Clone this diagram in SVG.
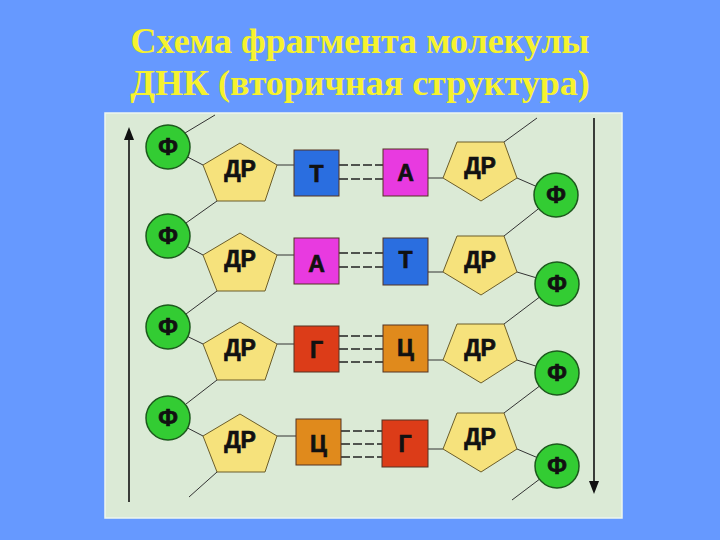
<svg xmlns="http://www.w3.org/2000/svg" width="720" height="540" viewBox="0 0 720 540">
<defs>
<style>
.title{font-family:"Liberation Serif","Times New Roman",serif;font-weight:bold;font-size:36px;fill:#f6f22e;text-anchor:middle}
.f circle{fill:#33cc33;stroke:#1d5a1d;stroke-width:1.5}
.lbl{font-family:"Liberation Sans",Arial,sans-serif;font-weight:bold;fill:#111;stroke:#111;stroke-width:0.7;text-anchor:middle}
.f text{font-size:23px}
.p polygon{fill:#f6e27c;stroke:#6b5d2a;stroke-width:1}
.p text{font-size:23px}
.s rect{stroke:#553322;stroke-width:1}
.s text{font-size:23px}
.blue{fill:#2a6ee0}
.mag{fill:#e83ae0}
.red{fill:#dc3c18}
.org{fill:#e08a1c}
.ln{stroke:#333;stroke-width:1;fill:none}
.hb{stroke:#222;stroke-width:1.3;stroke-dasharray:9 3;fill:none}
.ax{stroke:#111;stroke-width:1.6;fill:none}
</style>
</defs>
<rect x="0" y="0" width="720" height="540" fill="#6699ff"/>
<text class="title" x="360" y="53">Схема фрагмента молекулы</text>
<text class="title" x="360" y="95">ДНК (вторичная структура)</text>
<rect x="105" y="113" width="517" height="405" fill="#dbead6" stroke="#eef6ee" stroke-width="1.5"/>

<g id="connectors">
<line class="ax" x1="129" y1="502" x2="129" y2="130"/>
<path d="M129,127 L124,140 L134,140 z" fill="#111"/>
<line class="ax" x1="594" y1="118" x2="594" y2="482"/>
<path d="M594,494 L589,481 L599,481 z" fill="#111"/>
<line class="ln" x1="185" y1="133" x2="215" y2="115"/>
<line class="ln" x1="187.6" y1="157" x2="203" y2="165"/>
<line class="ln" x1="217" y1="201" x2="186" y2="223"/>
<line class="ln" x1="187.3" y1="246.5" x2="203" y2="255"/>
<line class="ln" x1="217" y1="291" x2="186" y2="314"/>
<line class="ln" x1="187.8" y1="336.6" x2="203" y2="344"/>
<line class="ln" x1="217" y1="380" x2="185.4" y2="404.5"/>
<line class="ln" x1="187.6" y1="428" x2="203" y2="436"/>
<line class="ln" x1="217" y1="472" x2="189" y2="497"/>
<line class="ln" x1="277" y1="165" x2="294" y2="165" stroke-width="1.5"/>
<line class="ln" x1="277" y1="255" x2="294" y2="255" stroke-width="1.5"/>
<line class="ln" x1="277" y1="344" x2="294" y2="344" stroke-width="1.5"/>
<line class="ln" x1="277" y1="436" x2="296" y2="436" stroke-width="1.5"/>
<line class="ln" x1="504" y1="142" x2="537" y2="118"/>
<line class="ln" x1="517" y1="178" x2="535.8" y2="186.2"/>
<line class="ln" x1="538.7" y1="208.6" x2="504" y2="236"/>
<line class="ln" x1="517" y1="272" x2="535.9" y2="277.7"/>
<line class="ln" x1="539.4" y1="297.2" x2="504" y2="324"/>
<line class="ln" x1="517" y1="360" x2="536.1" y2="366.2"/>
<line class="ln" x1="539.4" y1="386.2" x2="504" y2="413"/>
<line class="ln" x1="517" y1="449" x2="536.8" y2="457.4"/>
<line class="ln" x1="539.4" y1="479.3" x2="512" y2="500"/>
<line class="ln" x1="428" y1="178" x2="443" y2="178" stroke-width="1.5"/>
<line class="ln" x1="428" y1="272" x2="443" y2="272" stroke-width="1.5"/>
<line class="ln" x1="428" y1="360" x2="443" y2="360" stroke-width="1.5"/>
<line class="ln" x1="428" y1="449" x2="443" y2="449" stroke-width="1.5"/>
<line class="hb" x1="339" y1="165" x2="383" y2="165"/>
<line class="hb" x1="339" y1="179" x2="383" y2="179"/>
<line class="hb" x1="339" y1="253" x2="383" y2="253"/>
<line class="hb" x1="339" y1="267" x2="383" y2="267"/>
<line class="hb" x1="339" y1="336" x2="383" y2="336"/>
<line class="hb" x1="339" y1="349" x2="383" y2="349"/>
<line class="hb" x1="339" y1="362" x2="383" y2="362"/>
<line class="hb" x1="341" y1="431" x2="382" y2="431"/>
<line class="hb" x1="341" y1="444" x2="382" y2="444"/>
<line class="hb" x1="341" y1="457" x2="382" y2="457"/>
</g>

<g id="f-l1" class="f" transform="translate(168,147)"><circle r="22"/><text class="lbl" y="8">Ф</text></g>
<g id="f-l2" class="f" transform="translate(168,236)"><circle r="22"/><text class="lbl" y="8">Ф</text></g>
<g id="f-l3" class="f" transform="translate(168,327)"><circle r="22"/><text class="lbl" y="8">Ф</text></g>
<g id="f-l4" class="f" transform="translate(168,418)"><circle r="22"/><text class="lbl" y="8">Ф</text></g>

<g id="dr-l1" class="p" transform="translate(240,143)"><polygon points="0,0 37,22 25,58 -23,58 -37,22"/><text class="lbl" y="34">ДР</text></g>
<g id="dr-l2" class="p" transform="translate(240,233)"><polygon points="0,0 37,22 25,58 -23,58 -37,22"/><text class="lbl" y="34">ДР</text></g>
<g id="dr-l3" class="p" transform="translate(240,322)"><polygon points="0,0 37,22 25,58 -23,58 -37,22"/><text class="lbl" y="34">ДР</text></g>
<g id="dr-l4" class="p" transform="translate(240,414)"><polygon points="0,0 37,22 25,58 -23,58 -37,22"/><text class="lbl" y="34">ДР</text></g>

<g id="b-l1" class="s" transform="translate(294,150)"><rect class="blue" width="45" height="46"/><text class="lbl" x="22.5" y="32">Т</text></g>
<g id="b-l2" class="s" transform="translate(294,238)"><rect class="mag" width="45" height="46"/><text class="lbl" x="22.5" y="34">А</text></g>
<g id="b-l3" class="s" transform="translate(294,326)"><rect class="red" width="45" height="46"/><text class="lbl" x="22.5" y="32">Г</text></g>
<g id="b-l4" class="s" transform="translate(296,419)"><rect class="org" width="45" height="46"/><text class="lbl" x="22.5" y="33">Ц</text></g>

<g id="b-r1" class="s" transform="translate(383,149)"><rect class="mag" width="45" height="47"/><text class="lbl" x="22.5" y="32">А</text></g>
<g id="b-r2" class="s" transform="translate(383,238)"><rect class="blue" width="45" height="47"/><text class="lbl" x="22.5" y="30">Т</text></g>
<g id="b-r3" class="s" transform="translate(383,325)"><rect class="org" width="45" height="47"/><text class="lbl" x="22.5" y="31">Ц</text></g>
<g id="b-r4" class="s" transform="translate(382,420)"><rect class="red" width="46" height="47"/><text class="lbl" x="23" y="32">Г</text></g>

<g id="dr-r1" class="p" transform="translate(480,142)"><polygon points="-23,0 24,0 37,36 1,59 -37,36"/><text class="lbl" y="32">ДР</text></g>
<g id="dr-r2" class="p" transform="translate(480,236)"><polygon points="-23,0 24,0 37,36 1,59 -37,36"/><text class="lbl" y="32">ДР</text></g>
<g id="dr-r3" class="p" transform="translate(480,324)"><polygon points="-23,0 24,0 37,36 1,59 -37,36"/><text class="lbl" y="32">ДР</text></g>
<g id="dr-r4" class="p" transform="translate(480,413)"><polygon points="-23,0 24,0 37,36 1,59 -37,36"/><text class="lbl" y="32">ДР</text></g>

<g id="f-r1" class="f" transform="translate(556,195)"><circle r="22"/><text class="lbl" y="8">Ф</text></g>
<g id="f-r2" class="f" transform="translate(557,284)"><circle r="22"/><text class="lbl" y="8">Ф</text></g>
<g id="f-r3" class="f" transform="translate(557,373)"><circle r="22"/><text class="lbl" y="8">Ф</text></g>
<g id="f-r4" class="f" transform="translate(557,466)"><circle r="22"/><text class="lbl" y="8">Ф</text></g>
</svg>
